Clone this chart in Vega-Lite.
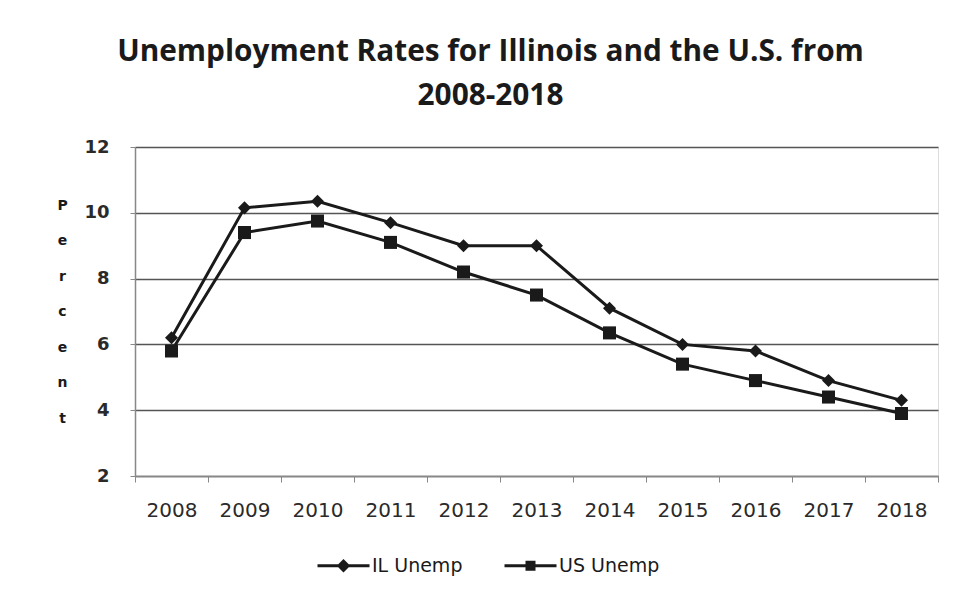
{
  "$schema": "https://vega.github.io/schema/vega-lite/v6.json",
  "width": 803,
  "height": 329,
  "autosize": {"type": "none"},
  "padding": {"left": 135, "top": 147, "right": 18, "bottom": 124},
  "background": "white",
  "title": {
    "text": ["Unemployment Rates for Illinois and the U.S. from", "2008-2018"],
    "font": "Open Sans",
    "fontSize": 29.8,
    "fontWeight": "bold",
    "color": "#1a1a1a",
    "anchor": "middle",
    "frame": "group",
    "dx": -46,
    "lineHeight": 44,
    "offset": 27
  },
  "data": {
    "values": [
      {"year": "2008", "series": "IL Unemp", "value": 6.2},
      {"year": "2009", "series": "IL Unemp", "value": 10.15},
      {"year": "2010", "series": "IL Unemp", "value": 10.35},
      {"year": "2011", "series": "IL Unemp", "value": 9.7},
      {"year": "2012", "series": "IL Unemp", "value": 9.0},
      {"year": "2013", "series": "IL Unemp", "value": 9.0},
      {"year": "2014", "series": "IL Unemp", "value": 7.1},
      {"year": "2015", "series": "IL Unemp", "value": 6.0},
      {"year": "2016", "series": "IL Unemp", "value": 5.8},
      {"year": "2017", "series": "IL Unemp", "value": 4.9},
      {"year": "2018", "series": "IL Unemp", "value": 4.3},
      {"year": "2008", "series": "US Unemp", "value": 5.8},
      {"year": "2009", "series": "US Unemp", "value": 9.4},
      {"year": "2010", "series": "US Unemp", "value": 9.75},
      {"year": "2011", "series": "US Unemp", "value": 9.1},
      {"year": "2012", "series": "US Unemp", "value": 8.2},
      {"year": "2013", "series": "US Unemp", "value": 7.5},
      {"year": "2014", "series": "US Unemp", "value": 6.35},
      {"year": "2015", "series": "US Unemp", "value": 5.4},
      {"year": "2016", "series": "US Unemp", "value": 4.9},
      {"year": "2017", "series": "US Unemp", "value": 4.4},
      {"year": "2018", "series": "US Unemp", "value": 3.9}
    ]
  },
  "encoding": {
    "x": {
      "field": "year",
      "type": "ordinal",
      "scale": {"type": "band", "paddingInner": 0, "paddingOuter": 0},
      "axis": {
        "title": null,
        "labelAngle": 0,
        "tickBand": "extent",
        "tickSize": 6,
        "tickColor": "#888",
        "domainColor": "#888",
        "domainWidth": 1.5,
        "labelFont": "DejaVu Sans",
        "labelFontSize": 20,
        "labelColor": "#2a2a2a",
        "labelPadding": 18,
        "grid": false
      }
    },
    "y": {
      "field": "value",
      "type": "quantitative",
      "scale": {"domain": [2, 12], "nice": false, "zero": false},
      "axis": {
        "values": [2, 4, 6, 8, 10, 12],
        "title": ["P", "e", "r", "c", "e", "n", "t"],
        "titleAngle": 0,
        "titleX": -73,
        "titleY": 51,
        "titleAlign": "center",
        "titleBaseline": "top",
        "titleLineHeight": 35.5,
        "titleFont": "DejaVu Sans",
        "titleFontSize": 14,
        "titleFontWeight": "bold",
        "titleColor": "#1a1a1a",
        "labelFont": "DejaVu Sans",
        "labelFontSize": 18,
        "labelFontWeight": "bold",
        "labelColor": "#2a2a2a",
        "labelPadding": 21,
        "tickSize": 5,
        "tickColor": "#888",
        "domainColor": "#888",
        "domainWidth": 1.5,
        "gridColor": "#555",
        "gridWidth": 1.5
      }
    }
  },
  "resolve": {"scale": {"shape": "independent"}, "legend": {"shape": "independent"}},
  "layer": [
    {
      "mark": {"type": "line", "color": "#1a1a1a", "strokeWidth": 3},
      "encoding": {"detail": {"field": "series"}}
    },
    {
      "mark": {"type": "point", "filled": true, "color": "#1a1a1a", "opacity": 1, "size": 170},
      "encoding": {
        "shape": {
          "field": "series",
          "type": "nominal",
          "scale": {"domain": ["IL Unemp", "US Unemp"], "range": ["diamond", "square"]},
          "legend": null
        }
      }
    },
    {
      "mark": {"type": "point", "filled": true, "color": "#1a1a1a", "size": 0},
      "encoding": {
        "shape": {
          "field": "series",
          "type": "nominal",
          "scale": {
            "domain": ["IL Unemp", "US Unemp"],
            "range": [
              "M-5.2,-0.3L-1.05,-0.3L0,-1.35L1.05,-0.3L5.2,-0.3L5.2,0.3L1.05,0.3L0,1.35L-1.05,0.3L-5.2,0.3Z",
              "M-5.2,-0.3H-1V-1H1V-0.3H5.2V0.3H1V1H-1V0.3H-5.2Z"
            ]
          },
          "legend": {
            "title": null,
            "orient": "none",
            "direction": "horizontal",
            "legendX": 199,
            "legendY": 409,
            "symbolSize": 100,
            "symbolOpacity": 1,
            "symbolFillColor": "#1a1a1a",
            "symbolStrokeColor": "#1a1a1a",
            "symbolStrokeWidth": 0,
            "labelOffset": 19,
            "columnPadding": 41,
            "labelFont": "DejaVu Sans",
            "labelFontSize": 19,
            "labelColor": "#1a1a1a"
          }
        }
      }
    }
  ]
}
